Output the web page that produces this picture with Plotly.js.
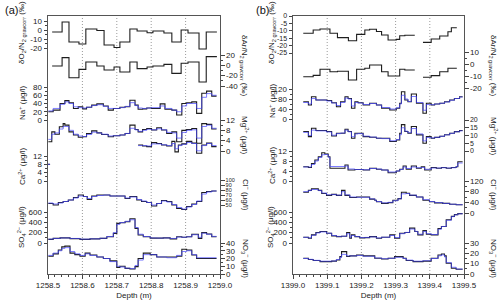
<!DOCTYPE html>
<html><head><meta charset="utf-8">
<script src="https://cdn.plot.ly/plotly-3.0.1.min.js"></script>
<style>html,body{margin:0;padding:0;background:#fff}#chart{width:500px;height:305px}</style>
</head><body><div id="chart"></div>
<script>
// ---------------- DATA: panel (a) 1258.5-1259.0 m ----------------
const gasDepthA = [1258.512,1258.541,1258.561,1258.590,1258.610,1258.642,1258.663,1258.692,1258.709,1258.738,1258.759,1258.788,1258.805,1258.837,1258.860,1258.887,1258.907,1258.939,1258.960,1258.991];
const o2n2A = [-2.2,8.9,-13.3,-15.6,1.1,-0.6,-16.7,-19.4,-13.3,1.1,-1.1,-3,-1.1,-3.3,-13.3,0,-3.3,-21.1,-2.2];
const arn2A = [-1.4,14.9,-23.9,-7.8,6.4,-1.4,-9.1,-3.3,-13,6.4,-6.4,-3.3,-1.4,1.9,-15.5,3.9,6.4,-32.4,16.9];

const naDepthA = [1258.501,1258.515,1258.535,1258.549,1258.561,1258.574,1258.588,1258.601,1258.612,1258.627,1258.642,1258.661,1258.675,1258.690,1258.709,1258.724,1258.738,1258.753,1258.762,1258.775,1258.787,1258.801,1258.826,1258.840,1258.860,1258.874,1258.889,1258.903,1258.918,1258.932,1258.947,1258.961,1258.976,1258.990];
const naA = [20,24,40,47,42,28,32,27,31,36,39,34,24,28,31,32,48,36,26,27,29,28,39,26,24,12,40,42,44,16,65,70,58];
const naA_hr = [22,28,38,44,40,32,30,29,31,35,37,33,28,28,30,33,42,35,29,28,29,30,34,28,24,20,34,40,40,28,55,64,60];

const mgDepthA = [1258.501,1258.511,1258.520,1258.533,1258.544,1258.549,1258.561,1258.574,1258.588,1258.601,1258.612,1258.627,1258.642,1258.656,1258.675,1258.690,1258.709,1258.724,1258.738,1258.753,1258.762,1258.775,1258.787,1258.801,1258.816,1258.830,1258.845,1258.860,1258.874,1258.889,1258.903,1258.918,1258.932,1258.947,1258.961,1258.976,1258.990];
const mgA = [3.6,7.4,6.5,9.4,10.6,10,7.4,6.2,5.3,5.5,6.8,7.8,7.0,6.4,5.5,5.9,6.2,6.8,10,8.3,7.4,8.3,8.7,8.1,9,8.1,6.8,7.4,3.6,8,8.3,8.7,3,10.6,10.3,8.5];
const mgA_hr = [4.5,6.5,7,8.5,9.5,9.5,8,6.5,5.8,5.6,6.4,7.3,7,6.5,5.8,5.9,6.2,6.8,8.8,8.2,7.6,8,8.4,8.2,8.6,8.2,7.2,7,5,7.2,8,8.2,5,9.5,10,8.8];

const caDepthA = [1258.500,1258.506,1258.762,1258.775,1258.787,1258.801,1258.816,1258.830,1258.845,1258.860,1258.869,1258.879,1258.889,1258.903,1258.918,1258.932,1258.947,1258.961,1258.976,1258.990];
const caA = [8,null,17.3,16.8,16.5,18.4,18,17.3,16.8,19,14,17.3,17.8,19,18.2,13.3,17.3,18.2,16.5];
const caA_hr = [8,null,17,17,16.8,17.8,17.8,17.4,17,18,15.5,17,17.6,18.5,18,14.5,17,18,17];

const clDepthA = [1258.501,1258.515,1258.530,1258.544,1258.559,1258.574,1258.588,1258.603,1258.614,1258.627,1258.642,1258.661,1258.680,1258.724,1258.738,1258.758,1258.772,1258.787,1258.801,1258.816,1258.830,1258.845,1258.860,1258.874,1258.889,1258.903,1258.918,1258.932,1258.947,1258.961,1258.976,1258.990];
const clA = [53,50,55,57,60,65,70,67,61,68,70,70,68,63,67,60,57,55,48,53,59,57,50,43,41,47,52,57,75,77,78];
const clA_hr = [54,52,54,57,60,64,68,67,63,67,69,70,68,64,66,61,58,55,50,53,58,56,51,45,42,46,51,58,72,76,78];

const so4DepthA = [1258.501,1258.515,1258.535,1258.564,1258.593,1258.622,1258.651,1258.671,1258.690,1258.700,1258.709,1258.724,1258.738,1258.753,1258.762,1258.777,1258.797,1258.816,1258.835,1258.855,1258.874,1258.889,1258.903,1258.918,1258.937,1258.947,1258.961,1258.976,1258.990];
const so4A = [71,90,100,85,70,80,90,122,187,380,393,412,470,284,155,122,95,95,100,80,122,110,122,168,90,200,175,122];
const so4A_hr = [75,88,98,88,75,80,92,125,200,360,395,420,450,300,170,125,98,95,98,88,115,112,120,160,110,190,170,128];

const no3DepthA = [1258.501,1258.515,1258.530,1258.540,1258.549,1258.564,1258.578,1258.593,1258.608,1258.622,1258.642,1258.661,1258.680,1258.700,1258.709,1258.724,1258.738,1258.753,1258.762,1258.777,1258.797,1258.816,1258.845,1258.874,1258.889,1258.903,1258.918,1258.932,1258.990];
const no3A = [23,26,31,35,36,27,25,23,27,24.5,22,20,17,8.5,10,7.3,6.5,9.5,20,27,25,22,22,23,32,31,24.5,20];
const no3A_hr = [24,27,30,33,34,29,26,24,26,24,22,20,16,10,9,7.5,7,11,18,25,25,22,21,24,29,30,25,21];

// ---------------- DATA: panel (b) 1399.0-1399.5 m ----------------
const gasDepthB = [1399.030,1399.059,1399.079,1399.108,1399.130,1399.162,1399.186,1399.210,1399.224,1399.244,1399.259,1399.278,1399.302,1399.312,1399.327,1399.356,1399.380,1399.404,1399.429,1399.453,1399.463,1399.479];
const o2n2B = [-11.7,-9.5,-8.8,-11.7,-14.6,-16.7,-12.4,-9.5,-9,-10.5,-12.8,-16.2,-15.8,-13.3,-13,null,-17.8,-15.5,-13.5,-10.6,-7.9];
const arn2B = [-10.6,-9.5,-4.4,-6.4,-6.0,-13.3,-4.4,-3.6,-0.8,-0.8,-6.4,-10,-10,-4.4,-5.0,null,-11,-9.7,-6.4,-3.6,-3.6];

const ionDepthB = [1399.030,1399.045,1399.054,1399.067,1399.098,1399.113,1399.127,1399.139,1399.152,1399.161,1399.171,1399.181,1399.190,1399.205,1399.224,1399.244,1399.259,1399.283,1399.302,1399.312,1399.317,1399.327,1399.336,1399.346,1399.361,1399.380,1399.390,1399.404,1399.414,1399.429,1399.443,1399.458,1399.472,1399.487,1399.496];
const naB = [69,56,89,76,74,65,49,69,89,82,43,69,65,56,63,56,43,36,43,63,109,76,69,100,63,23,63,56,60,63,69,76,82,89];
const naB_hr = [66,60,82,76,72,64,54,66,84,80,52,66,64,58,62,56,46,40,45,60,95,80,70,90,66,35,58,57,60,63,68,75,82,88];
const mgB = [12.6,9.3,14.7,13.2,12.6,9.7,11.5,11.5,14,12.6,8.2,11.5,11.5,9.3,8.9,8.2,8.2,6.1,7.1,11.5,17,12.6,11.5,15.8,10.4,5,9.3,8.2,8.8,9.5,10.5,11.5,12.5,13.2];
const mgB_hr = [12,10,13.5,13,12.3,10.2,11.2,11.6,13.5,12.4,9.2,11,11.2,9.6,9,8.3,8,6.6,7.4,10.5,15,12.8,11.8,14.5,11,6.5,8.8,8.4,8.8,9.5,10.4,11.4,12.4,13];

const caDepthB = [1399.030,1399.045,1399.054,1399.064,1399.074,1399.084,1399.093,1399.103,1399.108,1399.152,1399.161,1399.181,1399.205,1399.224,1399.244,1399.259,1399.278,1399.302,1399.312,1399.322,1399.331,1399.346,1399.361,1399.375,1399.385,1399.404,1399.419,1399.434,1399.448,1399.463,1399.477,1399.482,1399.496];
const caB = [5.7,5.4,7,8.4,9.7,11.3,10.8,9.7,5.1,6.4,4.4,4.6,4.4,5.1,4.7,4.4,3.3,4.0,4.7,6,4.7,6,5.1,5.7,4.4,5.4,5.1,5.4,5.1,5.4,5.7,7.7];
const caB_hr = [5.6,5.6,6.6,8,9.4,10.5,10.6,9.5,5.8,6,4.8,4.6,4.5,5,4.8,4.4,3.6,4,4.6,5.6,5,5.6,5.3,5.4,4.7,5.2,5.2,5.3,5.2,5.3,5.8,7.2];

const clDepthB = [1399.030,1399.045,1399.054,1399.074,1399.084,1399.098,1399.113,1399.127,1399.142,1399.152,1399.166,1399.186,1399.224,1399.239,1399.244,1399.259,1399.278,1399.292,1399.307,1399.317,1399.331,1399.341,1399.361,1399.380,1399.399,1399.414,1399.438,1399.458,1399.477,1399.496];
const clB = [78,85,91,85,73,66,70,66,85,66,58,60,52,48,42,36,39,48,54,78,74,66,60,48,42,38,36,33,31];
const clB_hr = [80,84,88,84,75,68,69,67,80,68,60,59,53,48,43,38,40,46,53,72,73,67,60,50,43,39,36,33,31];

const so4DepthB = [1399.030,1399.045,1399.054,1399.067,1399.079,1399.098,1399.113,1399.127,1399.142,1399.157,1399.166,1399.171,1399.181,1399.195,1399.210,1399.224,1399.244,1399.259,1399.283,1399.297,1399.312,1399.327,1399.341,1399.356,1399.365,1399.380,1399.390,1399.404,1399.424,1399.434,1399.448,1399.463,1399.472,1399.482,1399.496];
const so4B = [111,92,157,202,222,190,137,124,130,202,92,157,124,100,105,124,92,111,157,92,190,202,288,222,157,240,170,157,280,320,451,516,549,569];
const so4B_hr = [110,100,150,195,215,190,145,128,132,180,110,145,125,105,108,118,98,112,145,105,180,205,270,225,170,225,180,165,265,320,440,510,545,565];

const no3DepthB = [1399.030,1399.045,1399.059,1399.079,1399.113,1399.127,1399.137,1399.142,1399.157,1399.166,1399.186,1399.205,1399.239,1399.259,1399.278,1399.297,1399.322,1399.331,1399.351,1399.380,1399.404,1399.424,1399.434,1399.443,1399.448,1399.463,1399.477,1399.496];
const no3B = [15.2,14,13,12,12.5,13.5,16.8,21.7,17,17.5,18.4,17.5,15.2,14.5,15.2,16.8,15.2,13,12,12.5,15.2,18.4,19.4,17.5,10.4,5.5,4.6];
const no3B_hr = [15,14.2,13.2,12.4,12.6,14,16,19,17.5,17.5,18,17.2,15.5,14.8,15.2,16.2,15,13.4,12.4,12.8,15,17.6,18.5,16.5,11,6.5,4.8];

// tick labels
const xTicksA = [1258.5,1258.6,1258.7,1258.8,1258.9,1259.0];
const xTicksB = [1399.0,1399.1,1399.2,1399.3,1399.4,1399.5];
const dotA = [1258.6,1258.7,1258.8,1258.9];
const dotB = [1399.1,1399.2,1399.3,1399.4];

// ---------------- LAYOUT HELPERS ----------------
const W=500,H=305,T=16,B=274;
const F='"Liberation Sans", Arial, Helvetica, sans-serif';
const dom=[1-B/H,1-T/H];
function yr(v1,p1,v2,p2){const k=(v2-v1)/(p1-p2);return [v1+(p1-B)*k, v1+(p1-T)*k];}
function stepXY(d,v){const x=[],y=[];for(let i=0;i<v.length;i++){x.push(d[i]);y.push(v[i]);if(v[i]!==null&&(i===v.length-1||v[i+1]===null)){x.push(d[i+1]);y.push(v[i]);}}return {x,y};}
function yax(cal,side,tv,mv,anchor,overlay,showline,fs){
  const o={domain:dom,range:yr(...cal),side:side,anchor:anchor,tickmode:'array',tickvals:tv,ticktext:tv.map(String),
    ticks:'outside',ticklen:3.5,tickwidth:1,tickcolor:'#444',tickfont:{size:fs||8,color:'#222',family:F},
    showgrid:false,zeroline:false,showline:!!showline,linecolor:'#555',linewidth:1,mirror:!!showline,automargin:false,fixedrange:true};
  if(mv&&mv.length)o.minor={tickmode:'array',tickvals:mv,ticks:'outside',ticklen:2,tickwidth:1,tickcolor:'#444',showgrid:false};
  if(overlay)o.overlaying=overlay;
  return o;
}
function xax(dpx,rng,tv,anchor){
  return {domain:[dpx[0]/W,dpx[1]/W],range:rng,anchor:anchor,tickmode:'array',tickvals:tv,ticktext:tv.map(v=>v.toFixed(1)),
    ticks:'outside',ticklen:3.5,tickwidth:1,tickcolor:'#444',tickfont:{size:8,color:'#222',family:F},
    minor:{tickmode:'linear',tick0:rng[0],dtick:0.02,ticks:'outside',ticklen:2,tickwidth:1,tickcolor:'#444',showgrid:false},
    showgrid:false,zeroline:false,showline:true,mirror:true,linecolor:'#555',linewidth:1,automargin:false,fixedrange:true,
    title:{text:'Depth (m)',font:{size:8,color:'#222',family:F},standoff:3}};
}

const traces=[];
function addStep(d,v,xa,ya,color,width){const s=stepXY(d,v);traces.push({x:s.x,y:s.y,xaxis:xa,yaxis:ya,mode:'lines',line:{shape:'hv',color:color,width:width},hoverinfo:'skip',showlegend:false,connectgaps:false});}
const K='#1e1e1e', BL='rgba(70,70,255,0.7)';
// panel a
addStep(gasDepthA,o2n2A,'x','y',K,1.1);
addStep(gasDepthA,arn2A,'x','y2',K,1.1);
addStep(naDepthA,naA,'x','y3',K,1.1); addStep(naDepthA,naA_hr,'x','y3',BL,1);
addStep(mgDepthA,mgA,'x','y4',K,1.1); addStep(mgDepthA,mgA_hr,'x','y4',BL,1);
addStep(caDepthA,caA,'x','y5',K,1.1); addStep(caDepthA,caA_hr,'x','y5',BL,1);
addStep(clDepthA,clA,'x','y6',K,1.1); addStep(clDepthA,clA_hr,'x','y6',BL,1);
addStep(so4DepthA,so4A,'x','y7',K,1.1); addStep(so4DepthA,so4A_hr,'x','y7',BL,1);
addStep(no3DepthA,no3A,'x','y8',K,1.1); addStep(no3DepthA,no3A_hr,'x','y8',BL,1);
// panel b
addStep(gasDepthB,o2n2B,'x2','y9',K,1.1);
addStep(gasDepthB,arn2B,'x2','y10',K,1.1);
addStep(ionDepthB,naB,'x2','y11',K,1.1); addStep(ionDepthB,naB_hr,'x2','y11',BL,1);
addStep(ionDepthB,mgB,'x2','y12',K,1.1); addStep(ionDepthB,mgB_hr,'x2','y12',BL,1);
addStep(caDepthB,caB,'x2','y13',K,1.1); addStep(caDepthB,caB_hr,'x2','y13',BL,1);
addStep(clDepthB,clB,'x2','y14',K,1.1); addStep(clDepthB,clB_hr,'x2','y14',BL,1);
addStep(so4DepthB,so4B,'x2','y15',K,1.1); addStep(so4DepthB,so4B_hr,'x2','y15',BL,1);
addStep(no3DepthB,no3B,'x2','y16',K,1.1); addStep(no3DepthB,no3B_hr,'x2','y16',BL,1);

const layout={width:W,height:H,margin:{l:0,r:0,t:0,b:0},autosize:false,paper_bgcolor:'#fff',plot_bgcolor:'rgba(0,0,0,0)',
  font:{family:F,size:8,color:'#222'},showlegend:false,
  xaxis:xax([48,220],[1258.5,1259.0],xTicksA,'y'),
  xaxis2:xax([293,464],[1399.0,1399.5],xTicksB,'y9'),
  yaxis: yax([10,21,-20,48],'left',[10,0,-10,-20],[5,-5,-15],'x',null,true),
  yaxis2:yax([20,55,-40,86],'right',[20,0,-20,-40],[10,-10,-30],'x','y'),
  yaxis3:yax([80,87,0,120],'left',[80,60,40,20,0],[70,50,30,10],'x','y'),
  yaxis4:yax([12,120,0,151],'right',[12,8,4,0],[10,6,2],'x','y'),
  yaxis5:yax([12,156,0,181],'left',[12,8,4,0],[10,6,2],'x','y'),
  yaxis6:yax([100,180,50,205],'right',[100,90,80,70,60,50],[],'x','y',false,5.5),
  yaxis7:yax([600,212,0,243],'left',[600,400,200,0],[500,300,100],'x','y'),
  yaxis8:yax([40,243,0,274],'right',[40,30,20,10,0],[35,25,15,5],'x','y'),
  yaxis9: yax([0,16,-25,53],'left',[0,-5,-10,-15,-20,-25],[],'x2',null,true,7),
  yaxis10:yax([10,52,-20,88],'right',[10,0,-10,-20],[5,-5,-15],'x2','y9'),
  yaxis11:yax([120,89,0,119],'left',[120,80,40,0],[100,60,20],'x2','y9'),
  yaxis12:yax([20,120,0,151],'right',[20,15,10,5,0],[],'x2','y9',false,7),
  yaxis13:yax([12,151,0,181],'left',[12,8,4,0],[10,6,2],'x2','y9'),
  yaxis14:yax([120,181,0,213],'right',[120,80,40,0],[100,60,20],'x2','y9'),
  yaxis15:yax([600,212,0,243],'left',[600,400,200,0],[500,300,100],'x2','y9'),
  yaxis16:yax([30,243,0,274],'right',[30,20,10,0],[25,15,5],'x2','y9'),
  shapes:[],annotations:[]};

const dotLine={color:'#9a9a9a',width:1,dash:'1px,2px'};
dotA.forEach(d=>layout.shapes.push({type:'line',xref:'x',yref:'paper',x0:d,x1:d,y0:dom[0],y1:dom[1],layer:'below',line:dotLine}));
dotB.forEach(d=>layout.shapes.push({type:'line',xref:'x2',yref:'paper',x0:d,x1:d,y0:dom[0],y1:dom[1],layer:'below',line:dotLine}));

const titles=[
 ['δO<sub>2</sub>/N<sub>2 gravcorr</sub> (‰)',22,33,-90],
 ['Na<sup>+</sup> (μg/l)',22,103,-90],
 ['Ca<sup>2+</sup> (μg/l)',22,166,-90],
 ['SO<sub>4</sub><sup>2−</sup> (μg/l)',21,227,-90],
 ['δAr/N<sub>2 gravcorr</sub> (‰)',244,66,90],
 ['Mg<sup>2+</sup> (μg/l)',245,135,90],
 ['Cl<sup>−</sup> (μg/l)',246,195,90],
 ['NO<sub>3</sub><sup>−</sup> (μg/l)',246,258,90],
 ['δO<sub>2</sub>/N<sub>2 gravcorr</sub> (‰)',272,33,-90],
 ['Na<sup>+</sup> (μg/l)',272,101,-90],
 ['Ca<sup>2+</sup> (μg/l)',272,165,-90],
 ['SO<sub>4</sub><sup>2−</sup> (μg/l)',270,227,-90],
 ['δAr/N<sub>2 gravcorr</sub> (‰)',493,66,90],
 ['Mg<sup>2+</sup> (μg/l)',494,136,90],
 ['Cl<sup>−</sup> (μg/l)',494,195,90],
 ['NO<sub>3</sub><sup>−</sup> (μg/l)',494,258,90]
];
titles.forEach(t=>layout.annotations.push({text:t[0],x:t[1]/W,y:1-t[2]/H,xref:'paper',yref:'paper',textangle:t[3],showarrow:false,xanchor:'center',yanchor:'middle',font:{size:8,color:'#222',family:F}}));
layout.annotations.push({text:'(a)',x:11/W,y:1-10/H,xref:'paper',yref:'paper',showarrow:false,xanchor:'center',yanchor:'middle',font:{size:11,color:'#111',family:F}});
layout.annotations.push({text:'(b)',x:262/W,y:1-10/H,xref:'paper',yref:'paper',showarrow:false,xanchor:'center',yanchor:'middle',font:{size:11,color:'#111',family:F}});

Plotly.newPlot('chart',traces,layout,{staticPlot:true,displayModeBar:false});
</script></body></html>
